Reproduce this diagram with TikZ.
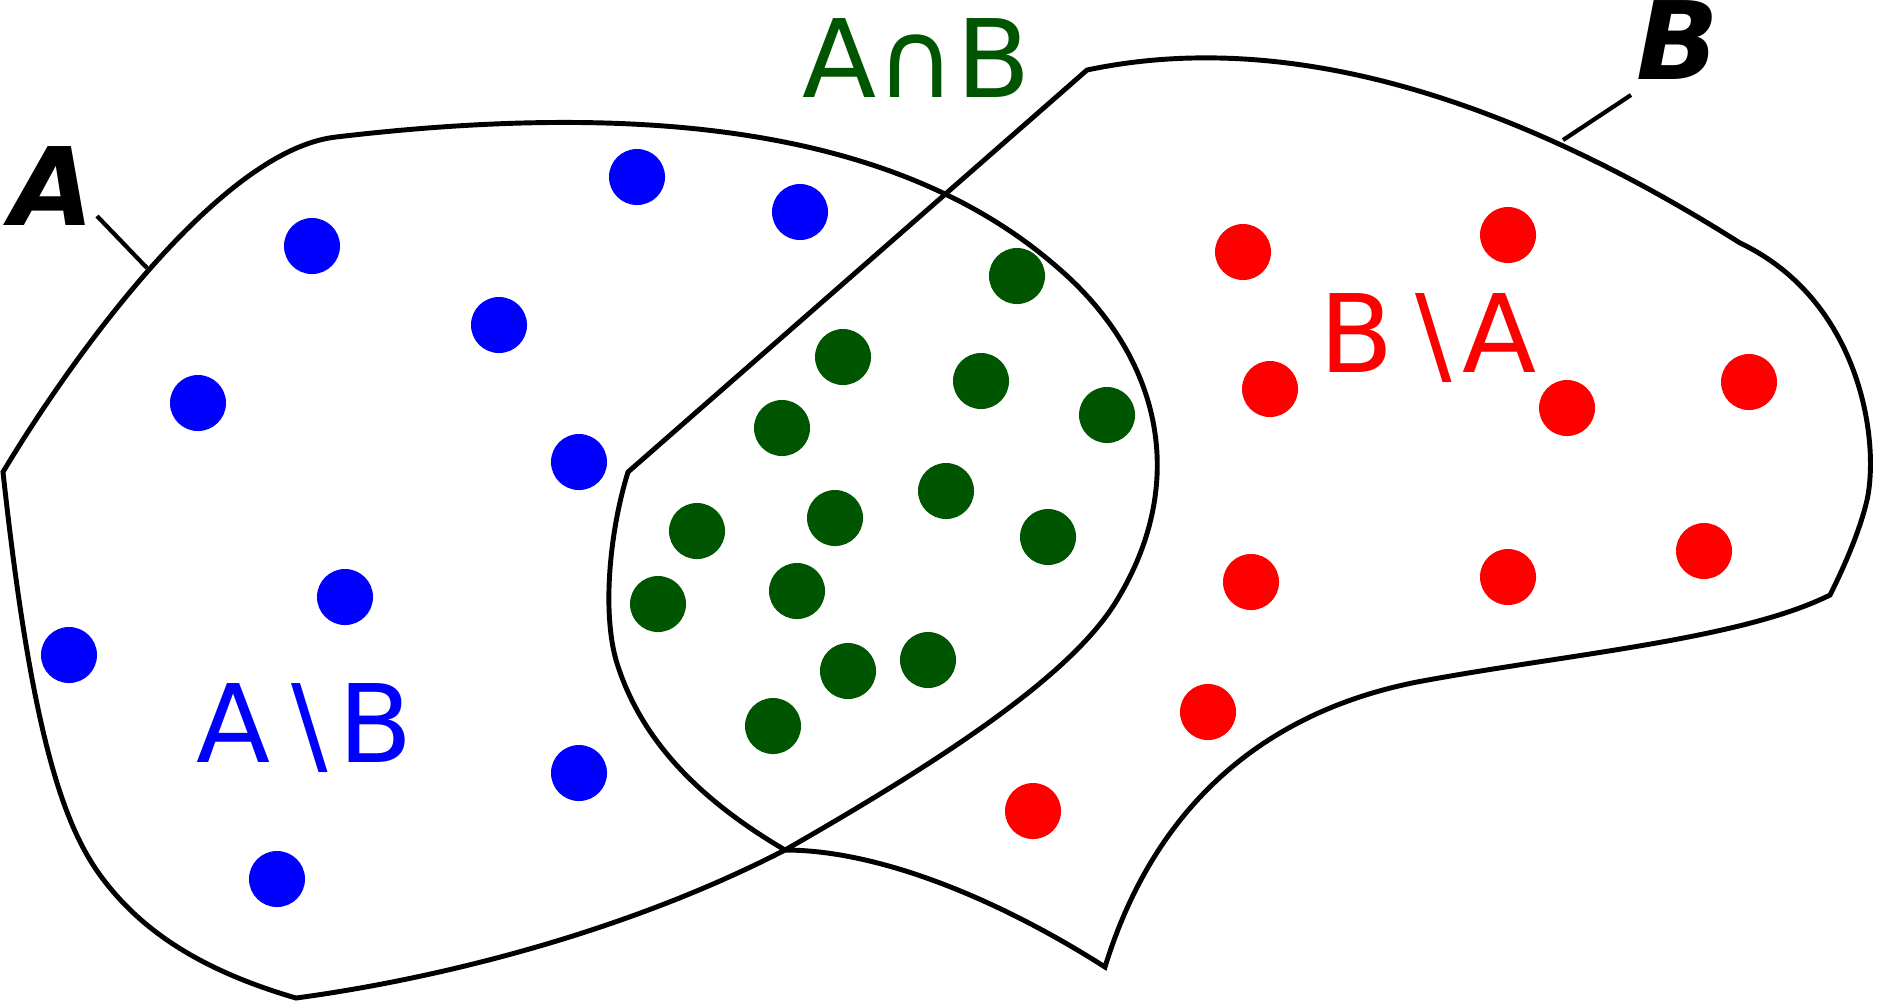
\documentclass[tikz,border=0pt]{standalone}
\usepackage{fontspec}
\setmainfont{DejaVu Sans}
\definecolor{blueD}{HTML}{0000FF}
\definecolor{redD}{HTML}{FF0000}
\definecolor{greenD}{HTML}{005500}

\begin{document}
\begin{tikzpicture}[x=0.01cm, y=-0.01cm,
  outline/.style={draw=black, line width=1.4pt, line join=miter},
  ptr/.style={draw=black, line width=1.2pt},
  lbl/.style={anchor=base west, inner sep=0pt, font=\fontsize{30.8}{36}\selectfont},
  setname/.style={lbl, font=\fontsize{30.8}{36}\selectfont\bfseries\itshape}]
\useasboundingbox (0,0) rectangle (1877,1002);
\draw[outline] (3,472) .. controls (70,360) and (220,150) .. (336,137)
  .. controls (650,100) and (900,130) .. (1057,267)
  .. controls (1160,355) and (1190,480) .. (1117,600)
  .. controls (1075,670) and (960,750) .. (785,850)
  .. controls (620,935) and (430,980) .. (296,998)
  .. controls (200,970) and (140,930) .. (100,875)
  .. controls (60,820) and (30,720) .. cycle;
\draw[outline] (628,472) -- (1087,70)
  .. controls (1300,25) and (1530,110) .. (1740,243)
  .. controls (1860,300) and (1880,440) .. (1867,500)
  .. controls (1860,530) and (1845,565) .. (1830,595)
  .. controls (1740,640) and (1560,655) .. (1417,682)
  .. controls (1250,715) and (1150,820) .. (1105,967)
  .. controls (1000,900) and (880,850) .. (785,850)
  .. controls (700,800) and (640,740) .. (616,660)
  .. controls (602,610) and (610,530) .. cycle;
\foreach \x/\y in {637/177, 800/212, 312/246, 499/325, 198/403, 579/462, 345/597, 69/655, 579/773, 277/879}
  \fill[blueD] (\x,\y) circle (0.28cm);
\foreach \x/\y in {1017/276, 843/357, 981/381, 1107/415, 782/428, 946/491, 835/518, 697/531, 1048/537, 797/591, 658/604, 928/660, 848/671, 773/726}
  \fill[greenD] (\x,\y) circle (0.28cm);
\foreach \x/\y in {1243/252, 1508/235, 1270/389, 1567/408, 1749/382, 1251/582, 1508/577, 1704/551, 1208/712, 1033/811}
  \fill[redD] (\x,\y) circle (0.28cm);
\node[setname] (nameA) at (10,225) {A};
\node[setname] (nameB) at (1636,79) {B};
\coordinate (armA) at (97,216);
\coordinate (touchA) at (147,268);
\coordinate (armB) at (1631,95);
\coordinate (touchB) at (1563,140);
\draw[ptr] (armA) -- (touchA);
\draw[ptr] (armB) -- (touchB);
\node[lbl, text=greenD] (both) at (802,97) {A∩B};
\node[lbl, text=blueD] (onlyA) at (196,762) {A\kern6pt\textbackslash\kern3pt B};
\node[lbl, text=redD] (onlyB) at (1319,372) {B\kern6pt\textbackslash\kern3pt A};
\end{tikzpicture}
\end{document}
